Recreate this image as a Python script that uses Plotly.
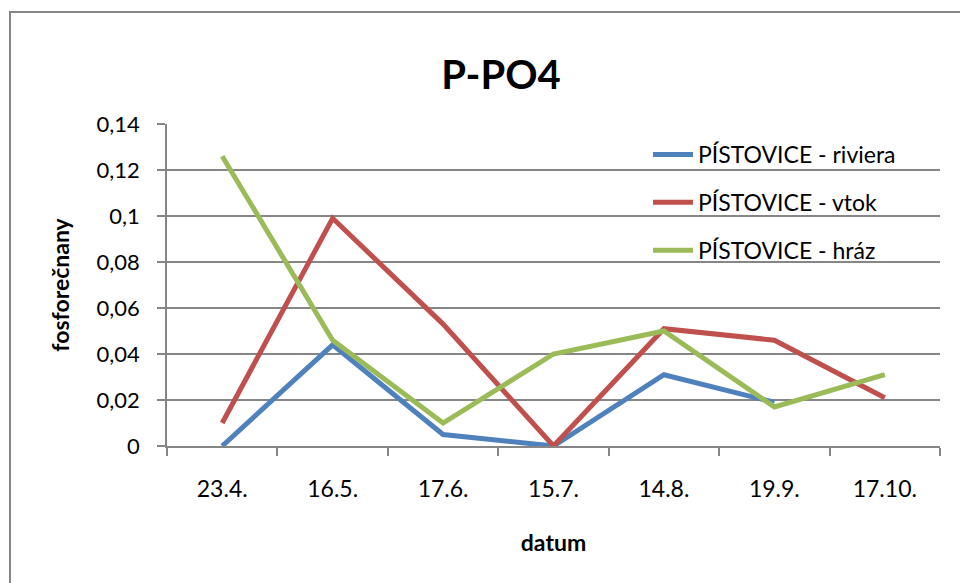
import plotly.graph_objects as go

# Sampling dates and measured phosphate (P-PO4) values per site
dates = ["23.4.", "16.5.", "17.6.", "15.7.", "14.8.", "19.9.", "17.10."]
riviera = [0.0, 0.044, 0.005, 0.0, 0.031, 0.019, None]
vtok = [0.01, 0.099, 0.053, 0.0, 0.051, 0.046, 0.021]
hraz = [0.126, 0.046, 0.01, 0.04, 0.05, 0.017, 0.031]

series_names = ["PÍSTOVICE - riviera", "PÍSTOVICE - vtok", "PÍSTOVICE - hráz"]
series_colors = ["#4F81BD", "#C0504D", "#9BBB59"]
y_ticks = [0, 0.02, 0.04, 0.06, 0.08, 0.1, 0.12, 0.14]

FONT = "Lato"
GRID = "#868686"

fig = go.Figure()
for name, vals, color in zip(series_names, [riviera, vtok, hraz], series_colors):
    fig.add_trace(go.Scatter(
        x=dates, y=vals, name=name, mode="lines",
        line=dict(color=color, width=5),
        legendgroup=name,
    ))

W, H = 960, 583
L, R, T, B = 167, 20, 124, 137
pw, ph = W - L - R, H - T - B


def px_x(x):
    return (x - L) / pw


def px_y(y):
    return (H - B - y) / ph


fig.update_layout(
    width=W, height=H,
    margin=dict(l=L, r=R, t=T, b=B, autoexpand=False),
    paper_bgcolor="white", plot_bgcolor="white",
    separators=", ",
    font=dict(family=FONT, color="#000000", size=22),
    title=dict(text="<b>P-PO4</b>", x=501 / W, xref="container", xanchor="center",
               y=1 - 75 / H, yref="container", yanchor="middle",
               font=dict(family=FONT, size=40, color="#000000")),
    showlegend=True,
    legend=dict(x=px_x(648), y=px_y(133), xanchor="left", yanchor="top",
                bgcolor="rgba(0,0,0,0)", font=dict(family=FONT, size=23),
                tracegroupgap=15, itemwidth=40),
    xaxis=dict(
        type="category", categoryorder="array", categoryarray=dates,
        showgrid=False, showline=True, linecolor=GRID, linewidth=1.5,
        ticks="outside", ticklen=8, tickcolor=GRID, tickwidth=1.5,
        tickson="boundaries", ticklabelstandoff=22,
        tickfont=dict(family=FONT, size=23),
        title=dict(text="<b>datum</b>", standoff=34,
                   font=dict(family=FONT, size=23)),
        range=[-0.5, len(dates) - 0.5], fixedrange=True,
    ),
    yaxis=dict(
        range=[0, 0.14], tickvals=y_ticks,
        showgrid=True, gridcolor=GRID, gridwidth=1.5,
        zeroline=False, showline=True, linecolor=GRID, linewidth=1.5,
        ticks="outside", ticklen=8, tickcolor=GRID, tickwidth=1.5,
        ticklabelstandoff=13,
        tickfont=dict(family=FONT, size=22),
        title=dict(text="<b>fosforečnany</b>", standoff=21,
                   font=dict(family=FONT, size=23)),
        fixedrange=True,
    ),
)

# Chart-area frame (top and left edges)
fig.add_shape(
    type="path", xref="paper", yref="paper",
    path=f"M {px_x(10)},{px_y(620)} L {px_x(10)},{px_y(12)} L {px_x(975)},{px_y(12)}",
    line=dict(color=GRID, width=2),
)

fig.write_html("out.html")
